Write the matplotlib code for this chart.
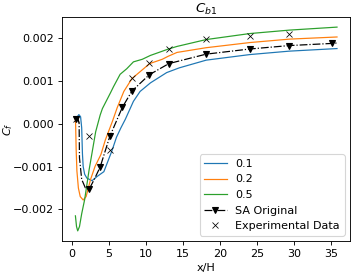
import matplotlib
matplotlib.use("Agg")
import matplotlib.pyplot as plt

# Cb1 = 0.1
x_01 = [0.5, 0.7, 0.92, 1.15, 1.3, 1.4, 1.5, 1.7, 2.0, 2.7, 3.4, 4.3, 5.4, 6.0, 6.6, 7.2,
        8.3, 9.2, 10.6, 12.8, 14.5, 18.15, 24.05, 29.4, 35.85]
y_01 = [0.00010, 0.00016, 0.00021, 0.00016, -0.0001, -0.0007, -0.0010, -0.00118, -0.00127,
        -0.00133, -0.00123, -0.00112, -0.00063, -0.00032, -0.0001, 0.0001, 0.00052, 0.00075,
        0.00095, 0.00119, 0.0013, 0.00148, 0.00161, 0.00169, 0.00175]

# Cb1 = 0.2
x_02 = [0.4, 0.47, 0.55, 0.65, 0.85, 1.1, 1.5, 1.9, 2.5, 3.1, 3.9, 4.5, 5.45, 6.1, 7.0,
        8.1, 10.5, 12.2, 13.0, 14.2, 18.15, 24.05, 29.4, 35.85]
y_02 = [0.00015, 0.00005, -0.0006, -0.0011, -0.0015, -0.0017, -0.00178, -0.0017, -0.0013,
        -0.0010, -0.00072, -0.00038, 0.00005, 0.00037, 0.00075, 0.00105, 0.0014, 0.0015,
        0.00157, 0.00166, 0.00177, 0.00189, 0.00197, 0.00202]

# Cb1 = 0.5
x_05 = [0.45, 0.6, 0.76, 1.0, 1.3, 1.7, 2.3, 2.65, 3.19, 3.8, 4.1, 5.2, 5.6, 6.5, 7.4,
        8.3, 9.5, 10.6, 13.05, 14.2, 18.15, 24.05, 29.4, 35.85]
y_05 = [-0.00215, -0.0024, -0.0025, -0.0024, -0.0021, -0.00177, -0.00108, -0.00073, -0.00019,
        0.0002, 0.00035, 0.00072, 0.00086, 0.00115, 0.00128, 0.00144, 0.0015, 0.00159,
        0.00174, 0.0018, 0.00196, 0.0021, 0.00218, 0.00225]

# SA original
x_sa = [0.54, 0.8, 0.95, 1.0, 1.3, 1.8, 2.3, 3.0, 3.8, 5.1, 6.8, 8.1, 10.45, 13.1,
        18.15, 24.05, 29.4, 35.2, 35.85]
y_sa = [0.0001, 0.00012, 0.0, -0.0008, -0.0013, -0.0015, -0.00153, -0.0013, -0.00101,
        -0.0003, 0.00038, 0.00076, 0.00114, 0.0014, 0.00162, 0.00174, 0.00182, 0.00187,
        0.00188]
sa_marks = [0, 6, 8, 9, 10, 11, 12, 13, 14, 15, 16, 17]

# Experimental data
x_exp = [0.54, 2.3, 5.1, 8.1, 10.45, 13.05, 18.15, 24.05, 29.4]
y_exp = [0.000116, -0.0003, -0.00061, 0.00106, 0.00141, 0.00174, 0.00197, 0.00204, 0.00208]

fig = plt.figure(figsize=(354 / 80, 273 / 80), dpi=80)
ax = fig.add_axes([0.175, 0.117, 0.814, 0.821])

ax.plot(x_01, y_01, lw=1.1, label="0.1")
ax.plot(x_02, y_02, lw=1.1, label="0.2")
ax.plot(x_05, y_05, lw=1.1, label="0.5")
ax.plot(x_sa, y_sa, 'k-.', lw=1.1, marker='v', markevery=sa_marks, label="SA Original")
ax.plot(x_exp, y_exp, 'x', color='k', markeredgewidth=0.7, label="Experimental Data")

ax.set_title("$C_{b1}$", pad=2)
ax.set_xlabel("x/H")
ax.set_ylabel("$C_f$")
ax.yaxis.set_label_coords(-0.163, 0.5)
ax.legend(loc='lower right')

fig.savefig("out.png", dpi=80)
